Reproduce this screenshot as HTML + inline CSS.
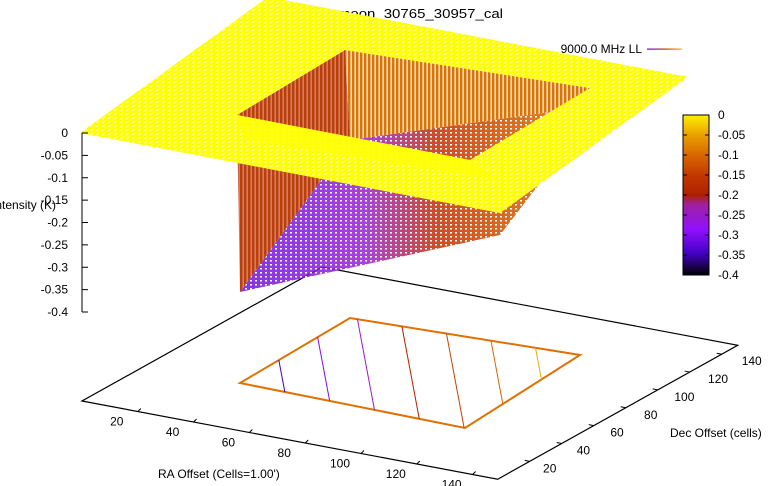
<!DOCTYPE html>
<html><head><meta charset="utf-8"><style>
html,body{margin:0;padding:0;background:#fff;}
svg{display:block;font-family:"Liberation Sans",sans-serif;font-size:12px;}
</style></head><body>
<svg id="c" width="775" height="486" viewBox="0 0 775 486">
<defs>
<pattern id="mesh" width="6" height="4" patternUnits="userSpaceOnUse">
<rect width="6" height="4" fill="#ffff00"/><line x1="0" y1="3" x2="3" y2="1" stroke="#fffbd0" stroke-width="0.8"/>
</pattern>
<pattern id="stripes" width="4" height="10" patternUnits="userSpaceOnUse">
<rect width="4" height="10" fill="#ffffff"/><rect width="2.4" height="10" fill="#d06010"/>
</pattern>
<pattern id="floorMesh" width="5" height="4" patternUnits="userSpaceOnUse">
<rect width="5" height="4" fill="none"/><rect x="0" y="0" width="2" height="1.5" fill="#ffffff"/>
</pattern>
<linearGradient id="bottomGrad" x1="0" y1="0" x2="1" y2="0">
<stop offset="0" stop-color="#7010e0"/><stop offset="0.35" stop-color="#9a20d0"/><stop offset="0.55" stop-color="#c03000"/><stop offset="1" stop-color="#e08000"/>
</linearGradient>
<linearGradient id="cbGrad" x1="0" y1="0" x2="0" y2="1">
<stop offset="0" stop-color="#fff000"/><stop offset="0.125" stop-color="#eaa000"/><stop offset="0.25" stop-color="#d86800"/><stop offset="0.375" stop-color="#c43800"/><stop offset="0.5" stop-color="#b02000"/><stop offset="0.56" stop-color="#a020a0"/><stop offset="0.72" stop-color="#9010ff"/><stop offset="0.87" stop-color="#4000c0"/><stop offset="1" stop-color="#000000"/>
</linearGradient>
<linearGradient id="legGrad" x1="0" y1="0" x2="1" y2="0">
<stop offset="0" stop-color="#6010e0"/><stop offset="0.5" stop-color="#c03000"/><stop offset="1" stop-color="#f0c000"/>
</linearGradient>
</defs>
<text x="277" y="18" textLength="226" lengthAdjust="spacingAndGlyphs" style="font-size:13px">Sky: 2D_moon_30765_30957_cal</text>
<g id="base"></g>
<g id="hole">
<polygon points="240,292 350,140 600,105 500,235" fill="url(#bottomGrad)" opacity="0.85"/>
<polygon points="240,292 350,140 600,105 500,235" fill="url(#floorMesh)"/>
<polygon points="237,115 345,50 350,140 240,292" fill="url(#stripes)"/>
<polygon points="237,115 345,50 350,140 240,292" fill="#b02800" opacity="0.6"/>
<polygon points="345,50 590,88 600,105 350,140" fill="url(#stripes)"/>
<polygon points="345,50 590,88 600,105 350,140" fill="#f0a000" opacity="0.3"/>
</g>
<path d="M80,133 L268,-3 L688,77 L500,213 Z M237,115 L470,160 L590,88 L345,50 Z" fill="url(#mesh)" fill-rule="evenodd"/>
<polygon points="237,115 470,160 500,180 245,140" fill="#ffff00" opacity="0.75"/>
<g id="axes"></g>
<g id="cbar"></g>
<text x="642" y="53" text-anchor="end">9000.0 MHz LL</text>
<rect x="647" y="48.5" width="35" height="1.2" fill="url(#legGrad)"/>
<text x="-8" y="209">Intensity (K)</text>
<text x="158" y="478">RA Offset (Cells=1.00')</text>
<text x="670" y="437">Dec Offset (cells)</text>
</svg>
<script>
const zTicks=[0,-0.05,-0.1,-0.15,-0.2,-0.25,-0.3,-0.35,-0.4];
const raTicks=[20,40,60,80,100,120,140];
const decTicks=[20,40,60,80,100,120,140];
const cbTicks=[0,-0.05,-0.1,-0.15,-0.2,-0.25,-0.3,-0.35,-0.4];
const contourLevels=[-0.35,-0.3,-0.25,-0.2,-0.15,-0.1,-0.05];
const NS='http://www.w3.org/2000/svg';
function mk(p,t,a){const e=document.createElementNS(NS,t);for(const k in a)e.setAttribute(k,a[k]);p.appendChild(e);return e;}
const zY=v=>133+(0-v)/0.4*179;
const base=(ra,dec)=>[82+2.79*ra+1.6*dec,401+0.525*ra-0.893*dec];
const cbY=v=>115+(0-v)/0.4*160;
function pal(v){const f=(v+0.4)/0.4;const stops=[[0,[0,0,0]],[0.13,[64,0,192]],[0.28,[144,16,255]],[0.44,[160,32,160]],[0.5,[176,32,0]],[0.75,[216,104,0]],[1,[255,240,0]]];
for(let i=1;i<stops.length;i++){if(f<=stops[i][0]){const a=stops[i-1],b=stops[i];const t=(f-a[0])/(b[0]-a[0]);return 'rgb('+a[1].map((c,j)=>Math.round(c+(b[1][j]-c)*t)).join(',')+')';}}return 'rgb(255,240,0)';}
const ax=document.getElementById('axes');
let l=mk(ax,'line',{x1:82,y1:zY(0),x2:82,y2:zY(-0.4),stroke:'#000'});


zTicks.forEach(v=>{const y=zY(v);mk(ax,'line',{x1:82,y1:y,x2:88,y2:y,stroke:'#000'});
const t=mk(ax,'text',{x:68,y:y+4,'text-anchor':'end'});t.textContent=String(v);

});
const b=document.getElementById('base');
const c0=base(0,0),c1=base(149,0),c2=base(149,150),c3=base(0,150);
const fr=mk(b,'polygon',{points:[c0,c1,c2,c3].map(p=>p.join(',')).join(' '),fill:'none',stroke:'#000','stroke-width':1.2});


raTicks.forEach(v=>{const p=base(v,0);mk(b,'line',{x1:p[0],y1:p[1],x2:p[0]+3,y2:p[1]-3,stroke:'#000'});
const t=mk(b,'text',{x:p[0]-21,y:p[1]+14,'text-anchor':'middle'});t.textContent=v;

});
decTicks.forEach(v=>{const p=base(149,v);mk(b,'line',{x1:p[0],y1:p[1],x2:p[0]-5,y2:p[1]-1,stroke:'#000'});
const t=mk(b,'text',{x:p[0]+20+(v-20)/12,y:p[1]+11,'text-anchor':'middle'});t.textContent=v;

});
const C=[[240,383],[350,318],[580,355],[465,428]];
const ol=mk(b,'polygon',{points:C.map(p=>p.join(',')).join(' '),fill:'none',stroke:'#e07000','stroke-width':2});


function along(path,f){const L=[];let tot=0;for(let i=1;i<path.length;i++){const d=Math.hypot(path[i][0]-path[i-1][0],path[i][1]-path[i-1][1]);L.push(d);tot+=d;}
let s=f*tot;for(let i=1;i<path.length;i++){if(s<=L[i-1]){const t=s/L[i-1];return [path[i-1][0]+(path[i][0]-path[i-1][0])*t,path[i-1][1]+(path[i][1]-path[i-1][1])*t];}s-=L[i-1];}return path[path.length-1];}
contourLevels.forEach(v=>{const f=(v+0.4)/0.4;const p=along([C[0],C[1],C[2]],f),q=along([C[0],C[3],C[2]],f);
const e=mk(b,'line',{x1:p[0],y1:p[1],x2:q[0],y2:q[1],stroke:pal(v),'stroke-width':1});

});
const cb=document.getElementById('cbar');
const r=mk(cb,'rect',{x:683,y:115,width:26,height:160,fill:'url(#cbGrad)',stroke:'#000'});


cbTicks.forEach(v=>{const y=cbY(v);mk(cb,'line',{x1:683,y1:y,x2:687,y2:y,stroke:'#000'});mk(cb,'line',{x1:705,y1:y,x2:709,y2:y,stroke:'#000'});
const t=mk(cb,'text',{x:718,y:y+4});t.textContent=String(v);

});
</script>
</body></html>
